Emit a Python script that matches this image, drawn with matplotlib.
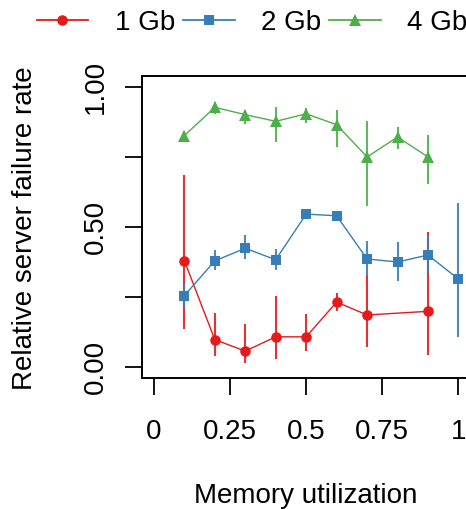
import matplotlib.pyplot as plt
from matplotlib.lines import Line2D

plt.rcParams['font.family'] = ['Liberation Sans', 'DejaVu Sans']

# memory utilization levels
mem = [0.1, 0.2, 0.3, 0.4, 0.5, 0.6, 0.7, 0.8, 0.9, 1.0]

# 1 Gb (no value at 0.8 and 1.0)
x_1gb = [0.1, 0.2, 0.3, 0.4, 0.5, 0.6, 0.7, 0.9]
y_1gb = [0.380, 0.098, 0.057, 0.108, 0.108, 0.232, 0.186, 0.199]
lo_1gb = [0.136, 0.039, 0.013, 0.030, 0.057, 0.200, 0.071, 0.042]
hi_1gb = [0.685, 0.193, 0.155, 0.255, 0.190, 0.264, 0.330, 0.481]

# 2 Gb
x_2gb = mem
y_2gb = [0.255, 0.379, 0.424, 0.383, 0.546, 0.540, 0.386, 0.375, 0.400, 0.314]
lo_2gb = [0.215, 0.347, 0.385, 0.347, 0.538, 0.532, 0.330, 0.308, 0.336, 0.108]
hi_2gb = [0.298, 0.418, 0.472, 0.422, 0.552, 0.548, 0.450, 0.448, 0.470, 0.587]

# 4 Gb (no value at 1.0)
x_4gb = mem[:9]
y_4gb = [0.826, 0.927, 0.901, 0.877, 0.904, 0.865, 0.750, 0.821, 0.750]
lo_4gb = [0.810, 0.905, 0.869, 0.803, 0.871, 0.786, 0.575, 0.777, 0.653]
hi_4gb = [0.842, 0.945, 0.916, 0.928, 0.926, 0.918, 0.877, 0.857, 0.827]

series = [
    ("1 Gb", x_1gb, y_1gb, lo_1gb, hi_1gb, "#E41A1C", "o", 7.6),
    ("2 Gb", x_2gb, y_2gb, lo_2gb, hi_2gb, "#377EB8", "s", 7.2),
    ("4 Gb", x_4gb, y_4gb, lo_4gb, hi_4gb, "#4DAF4A", "^", 9.0),
]

xticks = [0, 0.25, 0.5, 0.75, 1]
xticklabels = ["0", "0.25", "0.5", "0.75", "1"]
yticks = [0, 0.25, 0.5, 0.75, 1]
yticklabels = ["0.00", "", "0.50", "", "1.00"]

FS = 20

fig = plt.figure(figsize=(4.66, 5.09), dpi=100)
ax = fig.add_axes([0.3041, 0.2568, 0.7058, 0.5945])

handles = []
for name, xs, ys, lo, hi, col, mk, ms in series:
    yerr = [[y - l for y, l in zip(ys, lo)], [h - y for y, h in zip(ys, hi)]]
    ax.errorbar(xs, ys, yerr=yerr, fmt='none', ecolor=col, elinewidth=1.5,
                alpha=0.9, capsize=0)
    ax.plot(xs, ys, color=col, lw=1.0, marker=mk, markersize=ms,
            markeredgewidth=0)
    handles.append(Line2D([], [], color=col, lw=1.3, marker=mk,
                          markersize=ms, markeredgewidth=0, label=name))

ax.set_xlim(-0.04, 1.04)
ax.set_ylim(-0.04, 1.04)
for sp in ax.spines.values():
    sp.set_linewidth(1.4)

ax.set_xticks(xticks)
ax.set_xticklabels(xticklabels, fontsize=FS)
ax.set_yticks(yticks)
ax.set_yticklabels(yticklabels, fontsize=FS, rotation=90, va='center')
ax.tick_params(axis='x', length=12, width=1.3, pad=17)
ax.tick_params(axis='y', length=12, width=1.3, pad=12)

fig.text(0.0537, 0.552, "Relative server failure rate", rotation=90,
         fontsize=FS, ha='center', va='center')
fig.text(0.656, 0.026, "Memory utilization", fontsize=FS,
         ha='center', va='center')

fig.legend(handles=handles, loc='center', bbox_to_anchor=(0.541, 0.955),
           ncol=3, frameon=False, fontsize=FS, handlelength=1.85,
           handletextpad=0.95, columnspacing=0.3, borderaxespad=0)

plt.savefig("out.png", dpi=100)
